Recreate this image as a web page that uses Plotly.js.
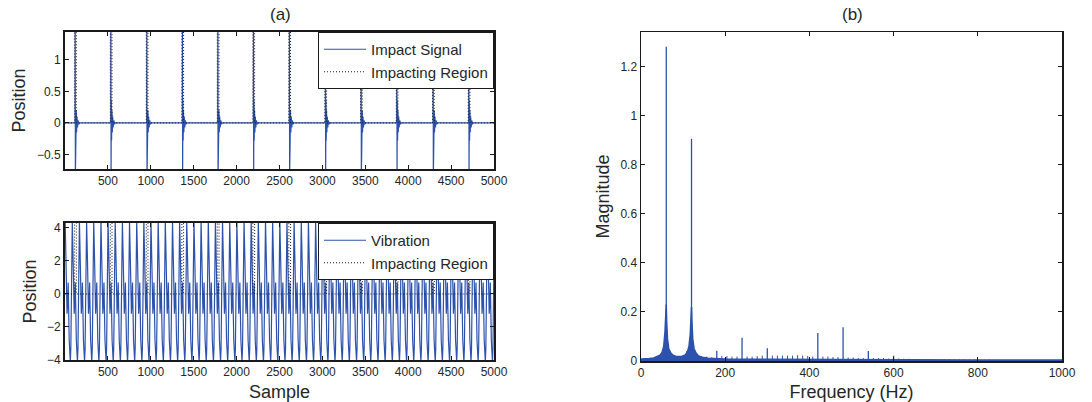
<!DOCTYPE html>
<html>
<head>
<meta charset="utf-8">
<script src="https://cdn.plot.ly/plotly-3.0.1.min.js"></script>
<style>html,body{margin:0;padding:0;background:#fff;}#chart{width:1092px;height:402px;}</style>
</head>
<body>
<div id="chart"></div>
<script>
// ---------- (a) top: impact signal ----------
const impactSamples = [117, 533, 952, 1367, 1780, 2195, 2614, 3034, 3450, 3866, 4289, 4705];
const spikeOffsets  = [0, 2, 4, 7, 10, 14, 18, 23, 29, 36, 44, 54];
const spikeValues   = [0, 1.6, -0.85, 0.36, -0.28, 0.2, -0.15, 0.1, -0.07, 0.04, -0.02, 0];

// impacting region (pulse start / end samples, pulse level)
const regionStarts = [112, 528, 947, 1362, 1775, 2190, 2609, 3029, 3445, 3861, 4284, 4700];
const regionEnds   = [132, 548, 967, 1382, 1795, 2210, 2629, 3049, 3465, 3881, 4304, 4720];
const regionLevel  = 5;

// ---------- (a) bottom: vibration ----------
const vibPeaks = [2, 85, 168, 252, 335, 419, 502, 585, 669, 752, 836, 919, 1002, 1086, 1169, 1253,
  1336, 1419, 1503, 1586, 1670, 1753, 1836, 1920, 2003, 2087, 2170, 2253, 2337, 2420, 2504,
  2587, 2670, 2754, 2837, 2921, 3004, 3087, 3171, 3254, 3338, 3421, 3504, 3588, 3671, 3755,
  3838, 3921, 4005, 4088, 4172, 4255, 4338, 4422, 4505, 4589, 4672, 4755, 4839, 4922];
const vibCycleOffsets = [0, 10, 22, 29, 35, 47, 55, 60, 66, 76];
const vibCycleValues  = [4.4, 2.0, -1.2, -0.5, 0.7, -2.8, -3.9, -4.1, -3.3, 1.5];

// ---------- (b) spectrum ----------
const mainFreqs = [60, 120];
const mainMags  = [1.28, 0.905];
const harmFreqs = [180, 240, 300, 420, 480, 540, 600];
const harmMags  = [0.042, 0.095, 0.052, 0.114, 0.137, 0.041, 0.022];
const combFreqs = [12, 24, 36, 48, 72, 84, 96, 108, 132, 144, 156, 168, 192, 204, 216, 228, 252, 264, 276, 288,
  312, 324, 336, 348, 360, 372, 384, 396, 408, 432, 444, 456, 468, 492, 504, 516, 528, 552, 564, 576, 588,
  612, 624, 636, 648, 660, 672, 684, 696, 708, 720, 732, 744, 756, 768, 780, 792, 804, 816, 828, 840];
const combMags  = [0.012, 0.01, 0.012, 0.015, 0.015, 0.02, 0.02, 0.04, 0.03, 0.02, 0.018, 0.015, 0.02, 0.02, 0.018, 0.018, 0.018, 0.018, 0.02, 0.022,
  0.022, 0.022, 0.022, 0.022, 0.022, 0.024, 0.022, 0.02, 0.018, 0.018, 0.018, 0.016, 0.016, 0.014, 0.014, 0.012, 0.012, 0.012, 0.012, 0.012, 0.01,
  0.01, 0.009, 0.009, 0.008, 0.008, 0.008, 0.008, 0.007, 0.007, 0.007, 0.007, 0.006, 0.006, 0.006, 0.006, 0.006, 0.006, 0.005, 0.005, 0.005];
const envFreqs = [0, 10, 20, 30, 40, 45, 50, 54, 57, 59, 60, 61, 63, 66, 70, 75, 85, 95, 100, 105, 110, 114, 117, 119, 120, 121, 123, 126, 130, 136, 145, 160, 200, 300, 400, 500, 600, 700, 800, 900, 1000];
const envMags  = [0.008, 0.008, 0.01, 0.012, 0.018, 0.024, 0.035, 0.06, 0.12, 0.2, 0.23, 0.16, 0.09, 0.05, 0.035, 0.025, 0.018, 0.018, 0.02, 0.025, 0.035, 0.06, 0.11, 0.2, 0.22, 0.16, 0.09, 0.05, 0.035, 0.022, 0.015, 0.011, 0.008, 0.007, 0.006, 0.005, 0.005, 0.004, 0.004, 0.004, 0.004];

const xTicksA = [500, 1000, 1500, 2000, 2500, 3000, 3500, 4000, 4500, 5000];

// ---------- build traces ----------
const BLUE = '#2c52ad';
const FONT = 'Liberation Sans, Arial, Helvetica, sans-serif';
const TXT = '#262626';
const DOT = {color: '#1a1a1a', width: 1, dash: '1px,2px'};

let ix = [0], iy = [0];
impactSamples.forEach(s => {
  spikeOffsets.forEach((o, k) => { ix.push(s + o); iy.push(spikeValues[k]); });
});
ix.push(5000); iy.push(0);

let rx = [0], ry = [0];
regionStarts.forEach((s, k) => {
  rx.push(s, s, regionEnds[k], regionEnds[k]);
  ry.push(0, regionLevel, regionLevel, 0);
});
rx.push(5000); ry.push(0);

let vx = [], vy = [];
vibPeaks.forEach(p => {
  vibCycleOffsets.forEach((o, k) => { vx.push(p + o); vy.push(vibCycleValues[k]); });
});

function stems(fs, ms) {
  const x = [], y = [];
  fs.forEach((f, k) => { x.push(f, f, null); y.push(0, ms[k], null); });
  return {x, y};
}
const combS = stems(combFreqs, combMags);
const harmS = stems(harmFreqs, harmMags);
const mainS = stems(mainFreqs, mainMags);

const traces = [
  {x: ix, y: iy, xaxis: 'x', yaxis: 'y', mode: 'lines', name: 'Impact Signal',
   line: {color: BLUE, width: 1.2}, legend: 'legend'},
  {x: rx, y: ry, xaxis: 'x', yaxis: 'y', mode: 'lines', name: 'Impacting Region',
   line: DOT, legend: 'legend'},
  {x: vx, y: vy, xaxis: 'x2', yaxis: 'y2', mode: 'lines', name: 'Vibration',
   line: {color: BLUE, width: 1.2}, legend: 'legend2'},
  {x: rx, y: ry, xaxis: 'x2', yaxis: 'y2', mode: 'lines', name: 'Impacting Region',
   line: DOT, legend: 'legend2'},
  {x: envFreqs, y: envMags, xaxis: 'x3', yaxis: 'y3', mode: 'lines', fill: 'tozeroy',
   fillcolor: BLUE, line: {color: BLUE, width: 1.5}, showlegend: false},
  {x: combS.x, y: combS.y, xaxis: 'x3', yaxis: 'y3', mode: 'lines',
   line: {color: BLUE, width: 1}, showlegend: false},
  {x: harmS.x, y: harmS.y, xaxis: 'x3', yaxis: 'y3', mode: 'lines',
   line: {color: BLUE, width: 1.3}, showlegend: false},
  {x: mainS.x, y: mainS.y, xaxis: 'x3', yaxis: 'y3', mode: 'lines',
   line: {color: BLUE, width: 1.3}, showlegend: false}
];

const W = 1092, H = 402;
const px = v => v / W, py = v => 1 - v / H;

function ax(extra) {
  return Object.assign({
    showline: true, linecolor: '#1a1a1a', linewidth: 2, mirror: 'ticks',
    ticks: 'inside', ticklen: 4, tickwidth: 1, tickcolor: '#1a1a1a',
    showgrid: false, zeroline: false, automargin: false,
    tickfont: {family: FONT, size: 12, color: TXT}
  }, extra);
}
const titleFont = {family: FONT, size: 18, color: TXT};
const legendBase = {
  bgcolor: '#fff', bordercolor: '#1a1a1a', borderwidth: 1,
  font: {family: FONT, size: 15, color: TXT},
  xanchor: 'right', yanchor: 'top', tracegroupgap: 0, itemwidth: 42
};

const layout = {
  width: W, height: H,
  margin: {l: 0, r: 0, t: 0, b: 0},
  paper_bgcolor: '#fff', plot_bgcolor: '#fff',
  font: {family: FONT, color: TXT},
  xaxis: ax({domain: [px(65), px(494)], anchor: 'y', range: [0, 5000], tickvals: xTicksA}),
  yaxis: ax({domain: [py(169), py(32)], anchor: 'x', range: [-0.73, 1.44], tickvals: [-0.5, 0, 0.5, 1],
    title: {text: 'Position', font: titleFont, standoff: 7}}),
  xaxis2: ax({domain: [px(65), px(494)], anchor: 'y2', range: [0, 5000], tickvals: xTicksA,
    title: {text: 'Sample', font: titleFont}}),
  yaxis2: ax({domain: [py(360), py(223)], anchor: 'x2', range: [-4, 4.3], tickvals: [-4, -2, 0, 2, 4],
    title: {text: 'Position', font: titleFont, standoff: 6}}),
  xaxis3: ax({domain: [px(641), px(1062)], anchor: 'y3', range: [0, 1000], tickvals: [0, 200, 400, 600, 800, 1000],
    linewidth: 1.5, title: {text: 'Frequency (Hz)', font: titleFont}}),
  yaxis3: ax({domain: [py(361), py(32)], anchor: 'x3', range: [0, 1.34], tickvals: [0, 0.2, 0.4, 0.6, 0.8, 1, 1.2],
    linewidth: 1.5, title: {text: 'Magnitude', font: titleFont, standoff: 6}}),
  legend: Object.assign({x: px(494), y: py(32)}, legendBase),
  legend2: Object.assign({x: px(494), y: py(223)}, legendBase),
  annotations: [
    {text: '(a)', x: px(280), y: py(15), xref: 'paper', yref: 'paper', showarrow: false,
     xanchor: 'center', yanchor: 'middle', font: {family: FONT, size: 17, color: TXT}},
    {text: '(b)', x: px(852), y: py(15), xref: 'paper', yref: 'paper', showarrow: false,
     xanchor: 'center', yanchor: 'middle', font: {family: FONT, size: 17, color: TXT}}
  ],
  showlegend: true
};

Plotly.newPlot('chart', traces, layout, {staticPlot: true, displayModeBar: false});
</script>
</body>
</html>
